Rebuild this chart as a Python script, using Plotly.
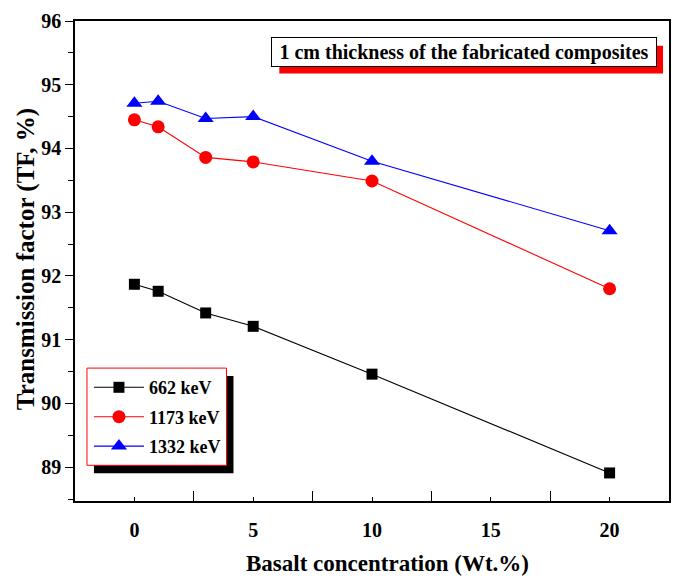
import plotly.graph_objects as go

# Basalt content of the composites (Wt.%)
basalt_wt = [0, 1, 3, 5, 10, 20]

# Transmission factor (%) at each photon energy
tf_662 = [91.87, 91.76, 91.42, 91.21, 90.46, 88.91]
tf_1173 = [94.45, 94.34, 93.86, 93.79, 93.49, 91.80]
tf_1332 = [94.71, 94.74, 94.47, 94.50, 93.80, 92.71]

series_names = ["662 keV", "1173 keV", "1332 keV"]
series_values = [tf_662, tf_1173, tf_1332]
series_colors = ["#000000", "#ff0000", "#0000ff"]
series_symbols = ["square", "circle", "triangle-up"]
series_sizes = [11, 13, 14]

x_ticks = [0, 5, 10, 15, 20]
y_ticks = [89, 90, 91, 92, 93, 94, 95, 96]

W, H = 681, 579
ML, MR, MT, MB = 75, 10, 17, 78
PW, PH = W - ML - MR, H - MT - MB


def px(x):
    return (x - ML) / PW


def py(y):
    return (H - MB - y) / PH


SERIF = "Liberation Serif"

fig = go.Figure()
for i, (name, vals) in enumerate(zip(series_names, series_values)):
    fig.add_trace(go.Scatter(
        x=basalt_wt, y=vals, name=name, mode="lines+markers",
        legendgroup=name,
        line=dict(color=series_colors[i], width=1.1),
        marker=dict(symbol=series_symbols[i], size=series_sizes[i],
                    color=series_colors[i], line=dict(width=0)),
    ))

shapes = [
    # legend box with drop shadow
    dict(type="rect", xref="paper", yref="paper", layer="above",
         x0=px(94), x1=px(234), y0=py(473), y1=py(375),
         fillcolor="black", line=dict(width=0)),
    dict(type="rect", xref="paper", yref="paper", layer="above",
         x0=px(87), x1=px(227), y0=py(465), y1=py(367),
         fillcolor="white", line=dict(color="red", width=1)),
    # caption box shadow
    dict(type="rect", xref="paper", yref="paper", layer="above",
         x0=px(280), x1=px(665), y0=py(70), y1=py(42),
         fillcolor="red", line=dict(width=0)),
]

annotations = [
    dict(xref="paper", yref="paper", x=px(465), y=py(48),
         xanchor="center", yanchor="middle",
         text="<b>1 cm thickness of the fabricated composites</b>",
         font=dict(family=SERIF, size=20, color="black"),
         bgcolor="white", bordercolor="black", borderwidth=1,
         width=382, height=26, showarrow=False),
    dict(xref="paper", yref="paper", x=px(389), y=py(564),
         xanchor="center", yanchor="middle",
         text="<b>Basalt concentration (Wt.%)</b>",
         font=dict(family=SERIF, size=23, color="black"), showarrow=False),
    dict(xref="paper", yref="paper", x=px(26), y=py(257),
         xanchor="center", yanchor="middle", textangle=-90,
         text="<b>Transmission factor (TF, %)</b>",
         font=dict(family=SERIF, size=25, color="black"), showarrow=False),
]

fig.update_layout(
    width=W, height=H,
    margin=dict(l=ML, r=MR, t=MT, b=MB),
    paper_bgcolor="white", plot_bgcolor="white",
    font=dict(family=SERIF, color="black"),
    shapes=shapes,
    annotations=annotations,
    showlegend=True,
    legend=dict(
        x=px(89), y=py(368), xanchor="left", yanchor="top",
        bgcolor="rgba(0,0,0,0)", borderwidth=0,
        font=dict(family=SERIF, size=18, color="black", weight="bold"),
        tracegroupgap=3, itemwidth=50,
    ),
    xaxis=dict(
        range=[-2.5, 22.5], tickvals=x_ticks, ticktext=[str(v) for v in x_ticks],
        ticks="inside", ticklen=4, tickwidth=1.2, tickcolor="black",
        minor=dict(tickvals=[2.5, 7.5, 12.5, 17.5], ticks="inside",
                   ticklen=10, tickwidth=1.2, tickcolor="black"),
        showline=True, linecolor="black", linewidth=1.5, mirror=True,
        showgrid=False, zeroline=False,
        tickfont=dict(family=SERIF, size=20, weight="bold"),
        ticklabelstandoff=10,
    ),
    yaxis=dict(
        range=[88.47, 96], tickvals=y_ticks,
        ticks="outside", ticklen=8, tickwidth=1.2, tickcolor="black",
        minor=dict(dtick=0.5, ticks="outside", ticklen=5, tickwidth=1.2,
                   tickcolor="black"),
        showline=True, linecolor="black", linewidth=1.5, mirror=True,
        showgrid=False, zeroline=False,
        tickfont=dict(family=SERIF, size=20, weight="bold"),
    ),
)

fig.write_html("out.html")
